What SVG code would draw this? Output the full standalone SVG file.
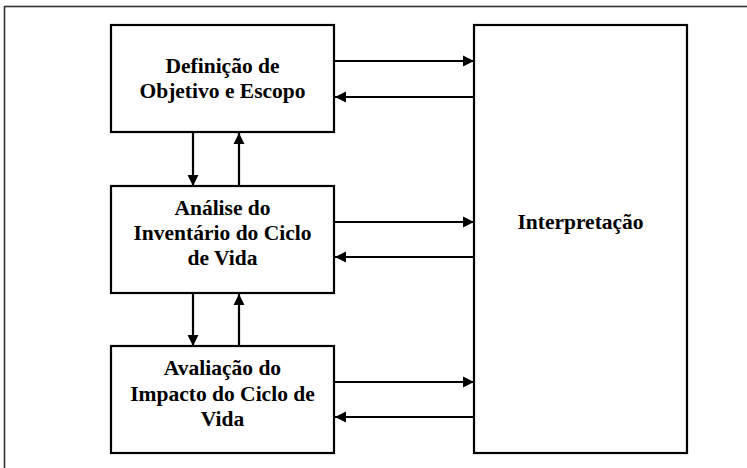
<svg xmlns="http://www.w3.org/2000/svg" width="747" height="468" viewBox="0 0 747 468">
<defs>
<style>
.box{fill:#fff;stroke:#000;stroke-width:2.2}
.frame{fill:#fff;stroke:#333;stroke-width:1.6}
.t{font-family:"Liberation Serif","Times New Roman",serif;font-weight:bold;font-size:21.5px;fill:#000;text-anchor:middle}
.c{stroke:#000;stroke-width:2.2;fill:none;marker-end:url(#ah)}
</style>
<marker id="ah" markerUnits="userSpaceOnUse" markerWidth="12" markerHeight="12" viewBox="0 0 12 12" refX="11" refY="6" orient="auto">
<path d="M0,0.5 L11,6 L0,11.5 Z" fill="#000"/>
</marker>
</defs>
<rect class="frame" x="4.5" y="6.5" width="800" height="500"/>
<g id="definicao">
<rect class="box" x="111" y="25" width="223" height="107"/>
<text class="t" x="222.5" y="73">Definição de</text>
<text class="t" x="222.5" y="98">Objetivo e Escopo</text>
</g>
<g id="inventario">
<rect class="box" x="111" y="186" width="223" height="107"/>
<text class="t" x="222.5" y="215">Análise do</text>
<text class="t" x="222.5" y="240">Inventário do Ciclo</text>
<text class="t" x="222.5" y="265">de Vida</text>
</g>
<g id="impacto">
<rect class="box" x="111" y="346" width="223" height="107"/>
<text class="t" x="222.5" y="375">Avaliação do</text>
<text class="t" x="222.5" y="401">Impacto do Ciclo de</text>
<text class="t" x="222.5" y="426">Vida</text>
</g>
<g id="interpretacao">
<rect class="box" x="474" y="25" width="213" height="428"/>
<text class="t" x="580.5" y="229">Interpretação</text>
</g>
<g id="connectors">
<line class="c" x1="335" y1="61" x2="474" y2="61"/>
<line class="c" x1="473" y1="97" x2="335" y2="97"/>
<line class="c" x1="335" y1="222" x2="474" y2="222"/>
<line class="c" x1="473" y1="257" x2="335" y2="257"/>
<line class="c" x1="335" y1="382" x2="474" y2="382"/>
<line class="c" x1="473" y1="417" x2="335" y2="417"/>
<line class="c" x1="193" y1="133" x2="193" y2="186"/>
<line class="c" x1="239" y1="185" x2="239" y2="133"/>
<line class="c" x1="193" y1="294" x2="193" y2="346"/>
<line class="c" x1="239" y1="345" x2="239" y2="294"/>
</g>
</svg>
